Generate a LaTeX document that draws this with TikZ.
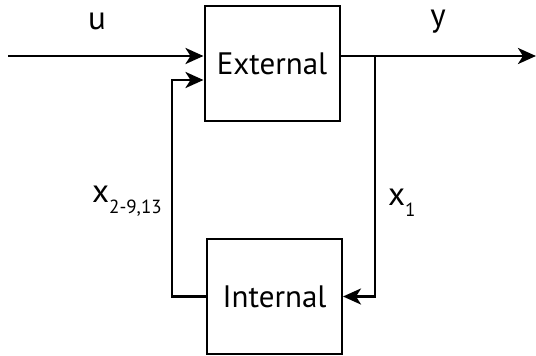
\documentclass[tikz,border=0pt]{standalone}
\usepackage{fontspec}
\setmainfont{PT Sans}
\usetikzlibrary{arrows.meta}
\begin{document}
\begin{tikzpicture}[x=1pt,y=-1pt,
  block/.style={draw, line width=2pt, minimum width=135pt, minimum height=115pt,
    inner sep=0pt, font=\fontsize{31}{31}\selectfont},
  sig/.style={line width=2.8pt, -{Stealth[length=18pt,width=16pt,inset=5pt]}},
  lbl/.style={font=\fontsize{33}{33}\selectfont, inner sep=0pt}]
\useasboundingbox (0,0) rectangle (536,356);
% the two blocks
\node[block] (ext) at (272,63.5) {External};
\node[block] (int) at (274.5,296.5) {Internal};
% signal points
\coordinate (in) at (8,56);
\coordinate (out) at (536,56);
\coordinate (br) at (375,56);
\coordinate (fb) at (172,80);
% input and output
\draw[sig] (in) -- (in -| ext.west);
\draw[sig] (ext.east |- out) -- (out);
% state x1 fed to the internal block
\draw[sig] (br) -- (br |- int.east) -- (int.east);
% remaining states fed back to the external block
\draw[sig] (int.west) -| (fb) -- (fb -| ext.west);
% labels
\node[lbl] (lu) at (97,21) {u};
\node[lbl] (ly) at (438,22) {y};
\node[lbl, anchor=base west] (lx2) at (92,202) {x\raisebox{-11pt}{\fontsize{19}{19}\selectfont 2-9,13}};
\node[lbl, anchor=base west] (lx1) at (388,205) {x\raisebox{-11pt}{\fontsize{19}{19}\selectfont 1}};
\end{tikzpicture}
\end{document}
